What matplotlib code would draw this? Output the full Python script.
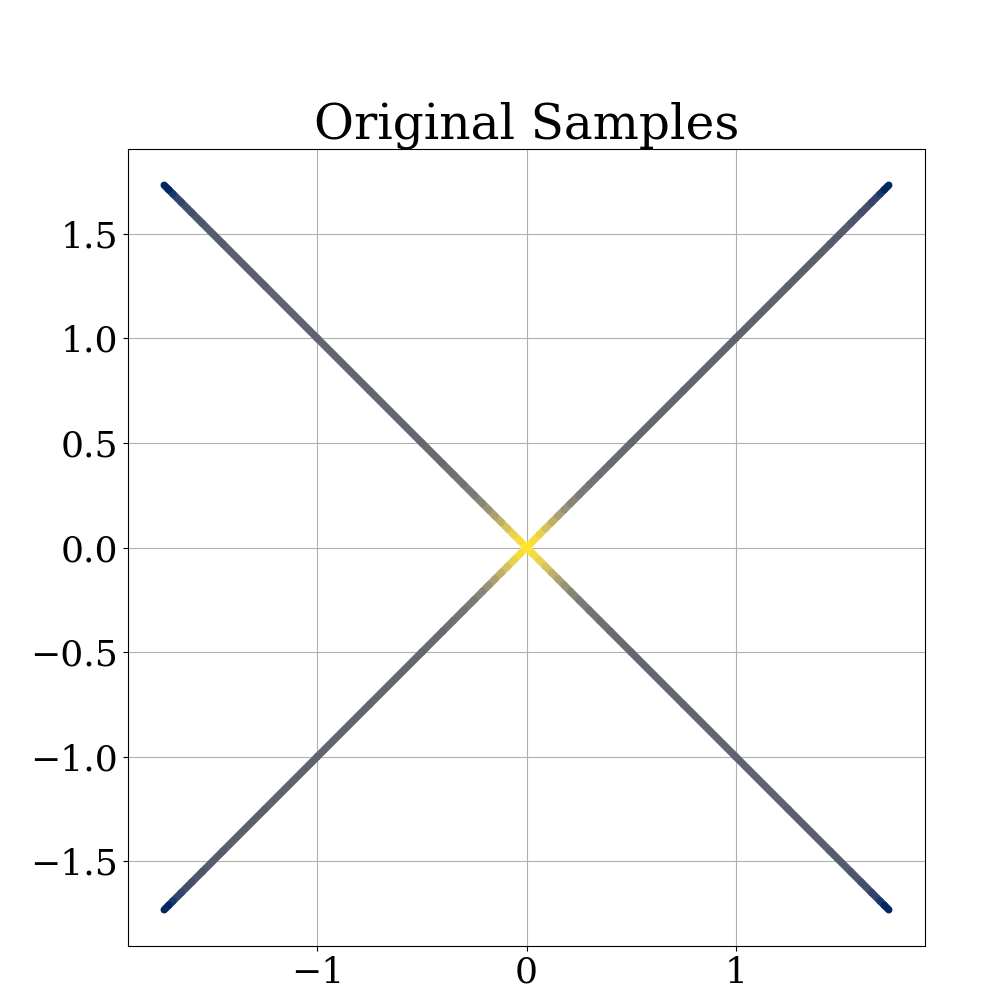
import numpy as np
import matplotlib
matplotlib.use("Agg")
import matplotlib.pyplot as plt
from matplotlib.collections import LineCollection

# distance from the centre along each arm, and the colour value (cividis) read at it
arm_dist = [0.0, 0.03, 0.06, 0.09, 0.12, 0.15, 0.18, 0.21, 0.25, 0.3, 0.35, 0.4, 0.5,
            0.75, 1.0, 1.25, 1.45, 1.55, 1.6, 1.65, 1.69, 1.71, 1.732]
arm_color = [1.0, 0.98, 0.94, 0.88, 0.8, 0.72, 0.65, 0.58, 0.52, 0.47, 0.44, 0.42, 0.4,
             0.38, 0.37, 0.36, 0.34, 0.31, 0.28, 0.23, 0.16, 0.08, 0.0]
# the four arm directions of the X
arm_dirs = [(1, 1), (-1, 1), (1, -1), (-1, -1)]

xticks = [-1, 0, 1]
yticks = [-1.5, -1.0, -0.5, 0.0, 0.5, 1.0, 1.5]

plt.rcParams['font.family'] = ['DejaVu Serif']

fig = plt.figure(figsize=(9.96, 9.96), dpi=100)
ax = fig.add_axes([128 / 996, 50 / 996, 797 / 996, 797 / 996])

d = np.array(arm_dist)
c = np.array(arm_color)
seg_vals = (c[:-1] + c[1:]) / 2
cmap = plt.get_cmap('cividis')

for sx, sy in arm_dirs:
    pts = np.column_stack([sx * d, sy * d])
    segs = np.stack([pts[:-1], pts[1:]], axis=1)
    lc = LineCollection(segs, colors=cmap(seg_vals), linewidths=5.3, capstyle='round', zorder=3)
    ax.add_collection(lc)

ax.set_xlim(-1.905, 1.905)
ax.set_ylim(-1.905, 1.905)
ax.set_xticks(xticks)
ax.set_yticks(yticks)
ax.set_xticklabels(['\u22121', '0', '1'])
ax.set_yticklabels([('\u2212' if v < 0 else '') + f'{abs(v):.1f}' for v in yticks])
ax.tick_params(labelsize=26)
ax.grid(True, zorder=0)
ax.set_axisbelow(True)
ax.set_title('Original Samples', fontsize=35)

fig.savefig('out.png', dpi=100)
